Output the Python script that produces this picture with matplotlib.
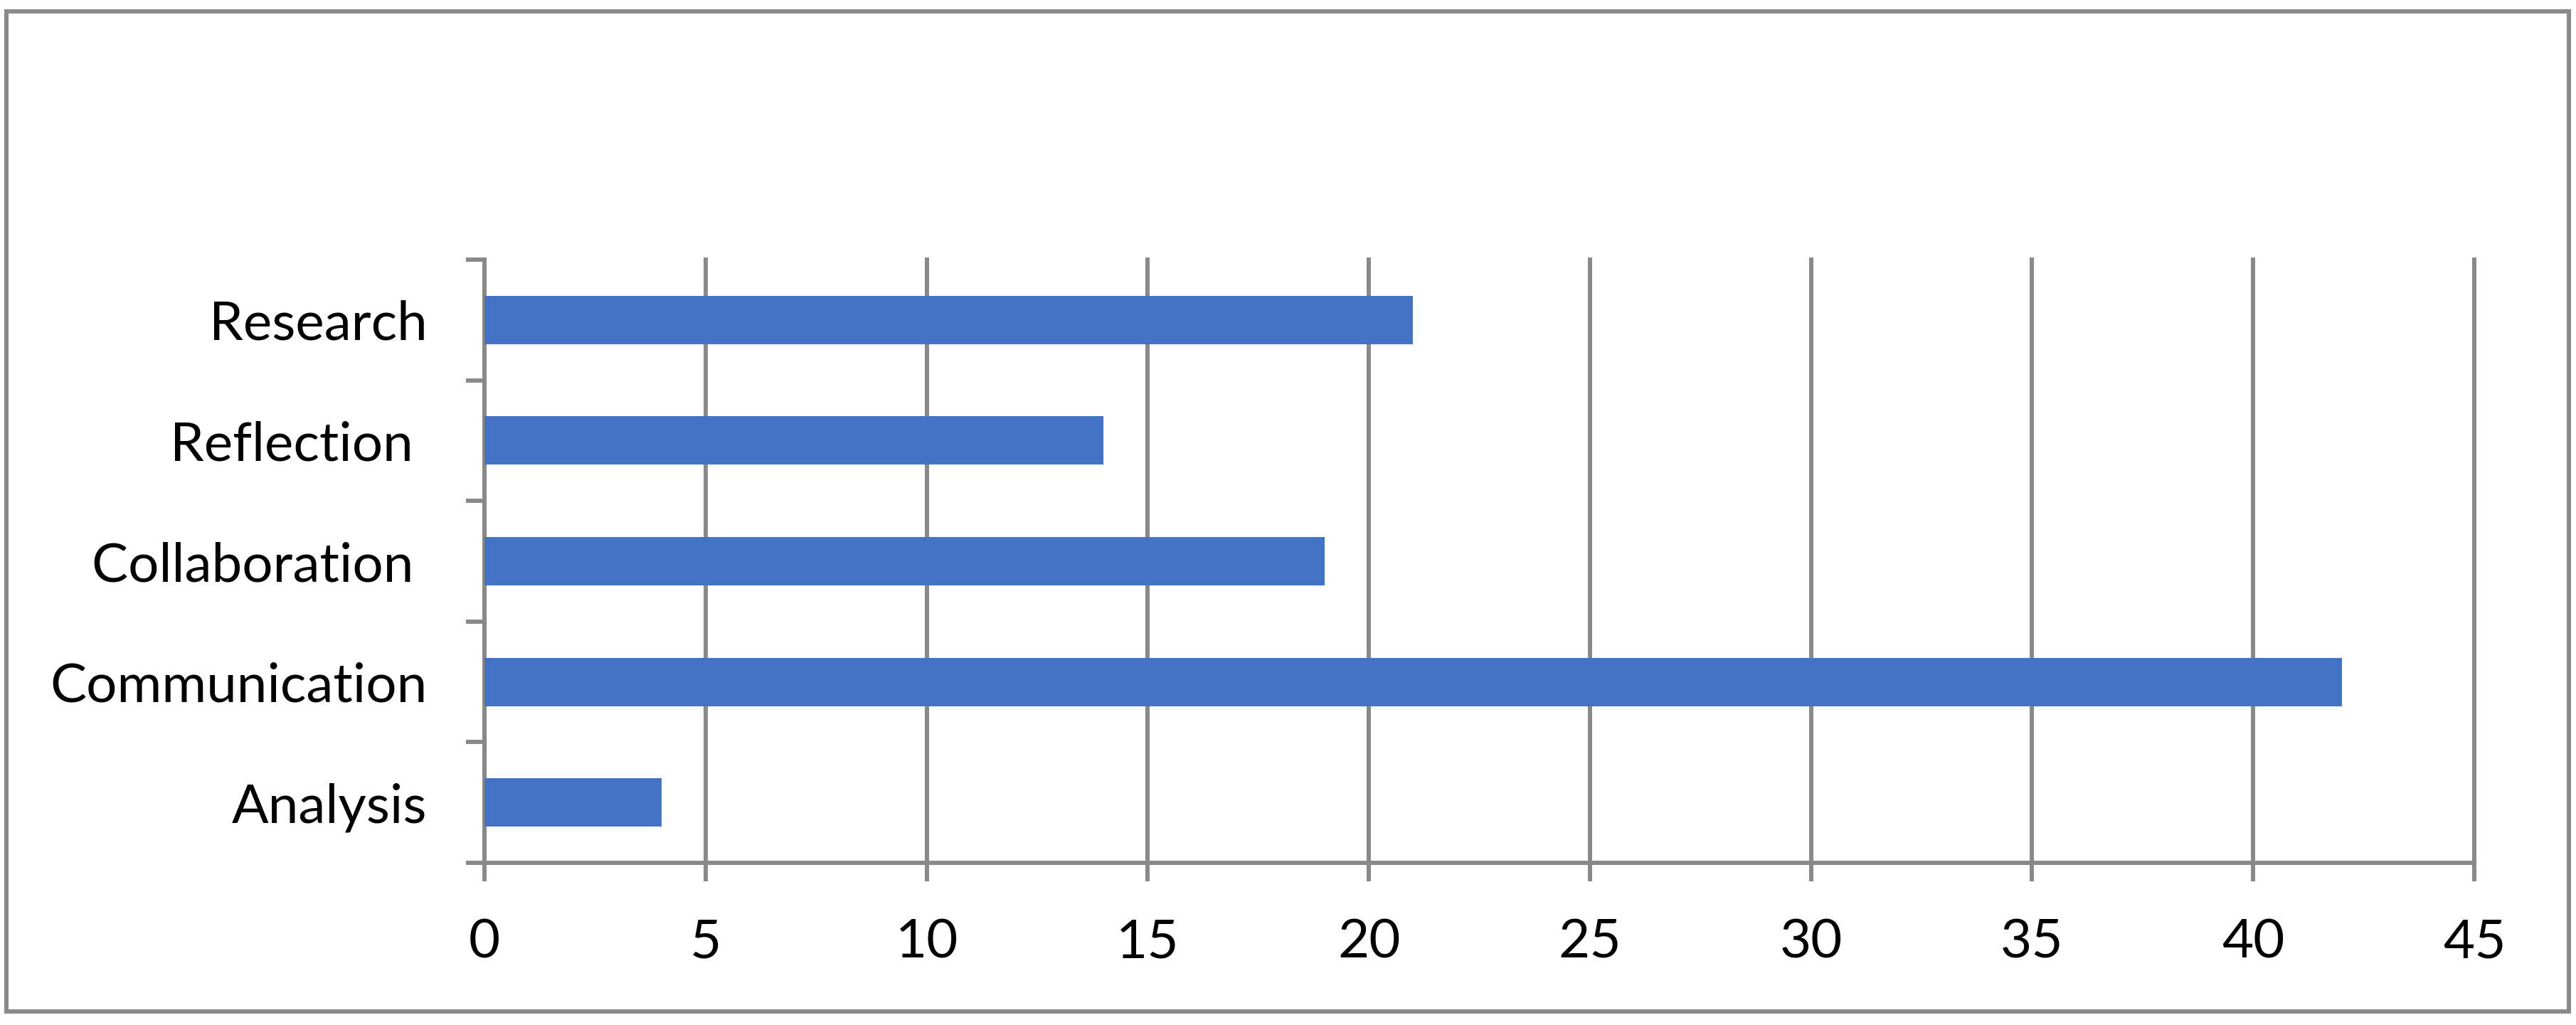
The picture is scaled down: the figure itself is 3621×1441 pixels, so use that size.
import matplotlib.pyplot as plt
from matplotlib.patches import Rectangle

# Data
categories = ["Analysis", "Communication", "Collaboration ", "Reflection ", "Research"]
values = [4, 42, 19, 14, 21]
xticks = [0, 5, 10, 15, 20, 25, 30, 35, 40, 45]

grey = "#898989"
blue = "#4472C4"

plt.rcParams['font.family'] = ["Lato", "DejaVu Sans"]

fig = plt.figure(figsize=(36.21, 14.41), dpi=100)
ax = fig.add_axes([0.1881, 0.1582, 0.9605 - 0.1881, 0.7467 - 0.1582])

pos = list(range(len(categories)))
ax.barh(pos, values, height=0.4, color=blue, zorder=3)

ax.set_xlim(0, 45)
ax.set_ylim(-0.5, len(categories) - 0.5)
ax.set_xticks(xticks)
ax.set_xticklabels([str(t) for t in xticks])
ax.set_yticks(pos)
ax.set_yticklabels(categories)
ax.set_yticks([p - 0.5 for p in pos] + [len(categories) - 0.5], minor=True)

#Gridlines
ax.grid(axis="x", color=grey, linewidth=4.3, zorder=1)
ax.set_axisbelow(True)
for gl in ax.get_xgridlines():
    gl.set_clip_on(False)

#Spines
for s in ["top", "right"]:
    ax.spines[s].set_visible(False)
for s in ["left", "bottom"]:
    ax.spines[s].set_color(grey)
    ax.spines[s].set_linewidth(4.3)

ax.tick_params(axis="x", which="major", direction="out", length=19, width=4.3,
               color=grey, labelsize=55, pad=37)
ax.tick_params(axis="y", which="major", length=0, labelsize=55, pad=58)
ax.tick_params(axis="y", which="minor", direction="out", length=19, width=4.3,
               color=grey)

#Outer border
fig.patches.append(Rectangle((0.0025, 0.0132), 0.9972 - 0.0025, 0.989 - 0.0132,
                             transform=fig.transFigure, fill=False,
                             edgecolor=grey, linewidth=4.3))

fig.savefig("out.png", dpi=100)
